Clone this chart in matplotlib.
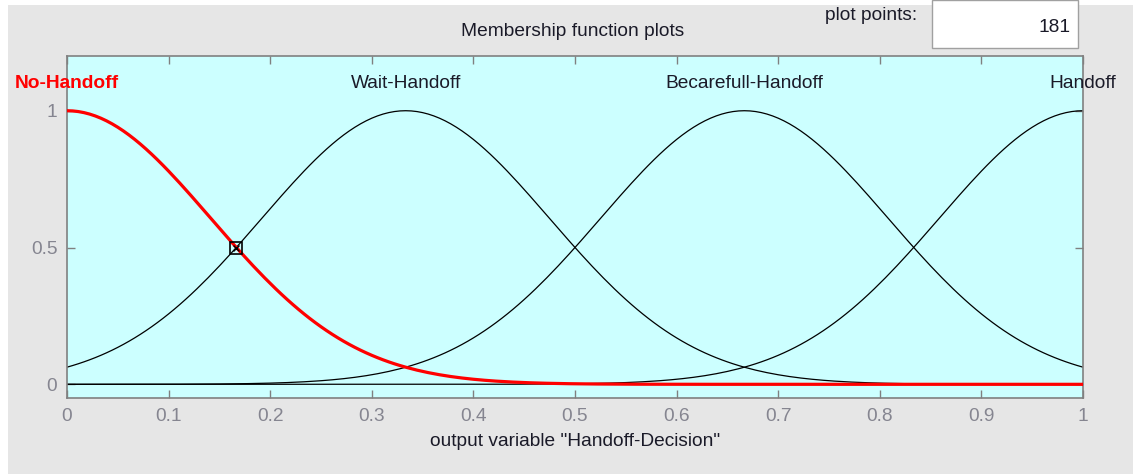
import numpy as np
import matplotlib.pyplot as plt
from matplotlib.patches import Rectangle

# membership functions of output variable (gaussmf: sigma, center)
mf_names = ['No-Handoff', 'Wait-Handoff', 'Becarefull-Handoff', 'Handoff']
mf_centers = [0.0, 0.3333, 0.6667, 1.0]
mf_sigmas = [0.1416, 0.1416, 0.1416, 0.1416]
selected = 0
n_points = 181
x_range = [0, 1]

x = np.linspace(x_range[0], x_range[1], n_points)

plt.rcParams['font.family'] = ['Liberation Sans', 'DejaVu Sans']
fs = 13.8
txt = '#1a1a28'
fig = plt.figure(figsize=(11.33, 4.74), dpi=100, facecolor='white')

# grey window background
fig.patches.append(Rectangle((8/1133, 0), 1 - 8/1133, 1 - 5/474, transform=fig.transFigure,
                             facecolor='#e6e6e6', edgecolor='none', zorder=-10))

ax = fig.add_axes([67/1133, 76/474, 1016/1133, 342/474])
ax.set_facecolor('#ccffff')

for i in range(len(mf_names)):
    y = np.exp(-(x - mf_centers[i])**2 / (2 * mf_sigmas[i]**2))
    if i == selected:
        continue
    ax.plot(x, y, c='k', lw=0.9, zorder=2)
    ax.text(mf_centers[i], 1.1, mf_names[i], ha='center', va='center', fontsize=fs,
            color=txt, clip_on=False)

ysel = np.exp(-(x - mf_centers[selected])**2 / (2 * mf_sigmas[selected]**2))
ax.plot(x, ysel, c='red', lw=2.3, zorder=3)
ax.text(mf_centers[selected], 1.1, mf_names[selected], ha='center', va='center', fontsize=fs,
        color='red', fontweight='bold', clip_on=False)

# selection handle at half height
xh = mf_centers[selected] + mf_sigmas[selected] * np.sqrt(2 * np.log(2))
ax.plot(xh, 0.5, marker='s', ms=8, mfc='none', mec='k', mew=1.2, zorder=4)
ax.plot(xh, 0.5, marker='x', ms=5, mec='k', mew=1, zorder=4)

ax.set_xlim(x_range)
ax.set_ylim(-0.05, 1.2)
ax.set_xticks(np.arange(0, 1.01, 0.1))
ax.set_xticklabels(['0', '0.1', '0.2', '0.3', '0.4', '0.5', '0.6', '0.7', '0.8', '0.9', '1'])
ax.set_yticks([0, 0.5, 1])
ax.set_yticklabels(['0', '0.5', '1'])
ax.tick_params(direction='in', top=True, right=True, length=6, width=1, color='#808080',
               labelcolor='#858590', labelsize=fs, pad=7)
for s in ax.spines.values():
    s.set_color('#808080')
    s.set_linewidth(1.2)

ax.set_xlabel('output variable "Handoff-Decision"', fontsize=fs, color=txt, labelpad=6)

fig.text(573/1133, 1 - 32/474, 'Membership function plots', ha='center', va='center',
         fontsize=fs, color=txt)
fig.text(917/1133, 1 - 16/474, 'plot points:', ha='right', va='center', fontsize=fs,
         color=txt)
fig.patches.append(Rectangle((932/1133, 1 - 48/474), 146/1133, 48/474, transform=fig.transFigure,
                             facecolor='white', edgecolor='#a0a0a0', lw=1, zorder=-5))
fig.text(1070/1133, 1 - 28/474, str(n_points), ha='right', va='center', fontsize=fs,
         color=txt)

fig.savefig('out.png', dpi=100, facecolor=fig.get_facecolor())
